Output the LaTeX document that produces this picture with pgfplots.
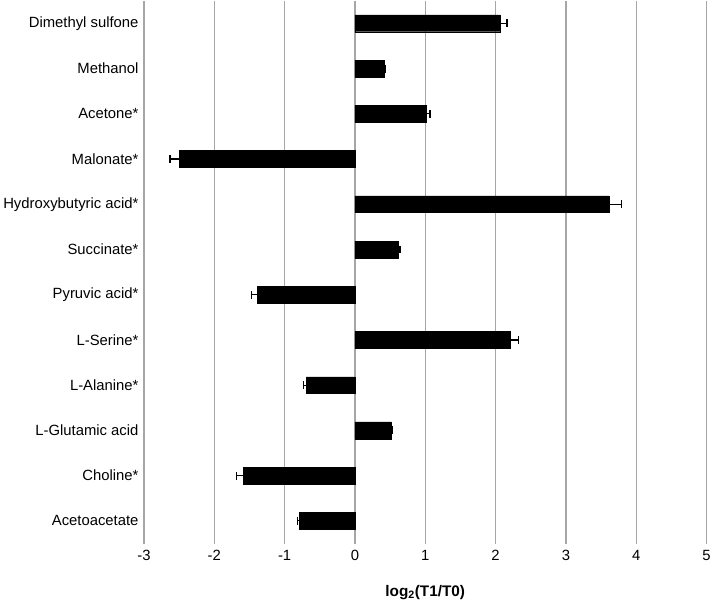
\documentclass[border=0pt]{standalone}
\usepackage{fontspec}
\setmainfont{Liberation Sans}
\usepackage{pgfplots}
\pgfplotsset{compat=1.18}
\begin{document}
\begin{tikzpicture}
\begin{axis}[
 xbar, scale only axis, width=567bp, height=547bp,
 xmin=-3, xmax=5, ymin=-0.5, ymax=11.5, y dir=reverse,
 xtick={-3,-2,-1,0,1,2,3,4,5}, ytick={0,1,2,3,4,5,6,7,8,9,10,11},
 yticklabels={Dimethyl sulfone, Methanol, Acetone*, Malonate*, Hydroxybutyric acid*, Succinate*, Pyruvic acid*, L-Serine*, L-Alanine*, L-Glutamic acid, Choline*, Acetoacetate},
 xmajorgrids, grid style={color=black!35, line width=1.4pt},
 axis line style={draw=none}, major tick length=0pt,
 tick label style={font=\fontsize{15}{17}\selectfont, black},
 xticklabel style={yshift=-3bp},
 yticklabel style={xshift=-2bp},
 /pgf/number format/assume math mode=true,
 xlabel={\textbf{log\textsubscript{2}(T1/T0)}},
 xlabel style={font=\fontsize{15.5}{17}\selectfont, yshift=-18bp},
 bar width=17bp,
 error bars/error bar style={black, line width=1.2pt},
 error bars/error mark options={rotate=90, black, mark size=4bp, line width=1.4pt},
]
\addplot[fill=black, draw=black,
  error bars/.cd, x dir=both, x explicit]
 table[x=x, y=y, x error=e] {
 y x e
 0 2.06 0.10
 1 0.41 0.02
 2 1.01 0.06
 3 -2.50 0.13
 4 3.61 0.18
 5 0.61 0.03
 6 -1.39 0.08
 7 2.21 0.12
 8 -0.69 0.04
 9 0.51 0.02
 10 -1.59 0.09
 11 -0.79 0.03
 };
\end{axis}
\end{tikzpicture}
\end{document}
